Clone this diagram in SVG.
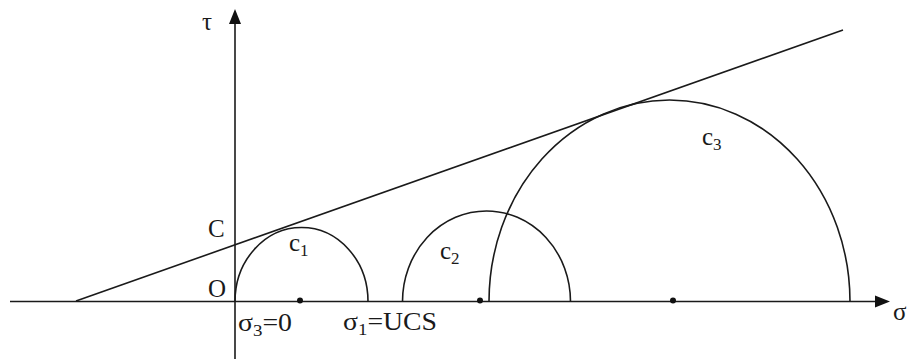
<svg xmlns="http://www.w3.org/2000/svg" width="907" height="359" viewBox="0 0 907 359">
<style>
.ln{fill:none;stroke:#1a1a1a;stroke-width:1.6}
.ah{fill:#111}
.dot{fill:#111}
.t{font-family:"Liberation Serif","Times New Roman",serif;font-size:25px;fill:#1a1a1a}
.s{font-size:17px}
</style>
<rect width="907" height="359" fill="#fff"/>
<g id="axes">
<line class="ln" x1="10" y1="301.5" x2="880" y2="301.5"/>
<polygon class="ah" points="890,301.5 875,295.5 875,307.5"/>
<line class="ln" x1="235" y1="20" x2="235" y2="359"/>
<polygon class="ah" points="235,9 229,24 241,24"/>
<text class="t" x="202" y="30">τ</text>
<text class="t" x="893" y="320">σ</text>
<text class="t" x="208" y="237">C</text>
<text class="t" x="208" y="297">O</text>
</g>
<g id="connectors">
<line id="envelope" class="ln" x1="76" y1="301" x2="843" y2="30"/>
</g>
<g id="c1">
<path class="ln" d="M235,301.5 A66.5,74 0 0 1 368,301.5"/>
<circle class="dot" cx="300" cy="300.5" r="3"/>
<text class="t" x="289" y="251">c<tspan class="s" dy="5">1</tspan></text>
</g>
<g id="c2">
<path class="ln" d="M402.5,301.5 A84,90.5 0 0 1 570.5,301.5"/>
<circle class="dot" cx="480" cy="300.5" r="3"/>
<text class="t" x="440" y="259">c<tspan class="s" dy="5">2</tspan></text>
</g>
<g id="c3">
<path class="ln" d="M489,301.5 A180.5,201.5 0 0 1 850,301.5"/>
<circle class="dot" cx="673" cy="300.5" r="3"/>
<text class="t" x="702" y="145">c<tspan class="s" dy="5">3</tspan></text>
</g>
<g id="labels">
<text class="t" x="238" y="331" textLength="54" lengthAdjust="spacingAndGlyphs">σ<tspan class="s" dy="5">3</tspan><tspan dy="-5">=0</tspan></text>
<text class="t" x="343" y="330" textLength="94" lengthAdjust="spacingAndGlyphs">σ<tspan class="s" dy="5">1</tspan><tspan dy="-5">=UCS</tspan></text>
</g>
</svg>
